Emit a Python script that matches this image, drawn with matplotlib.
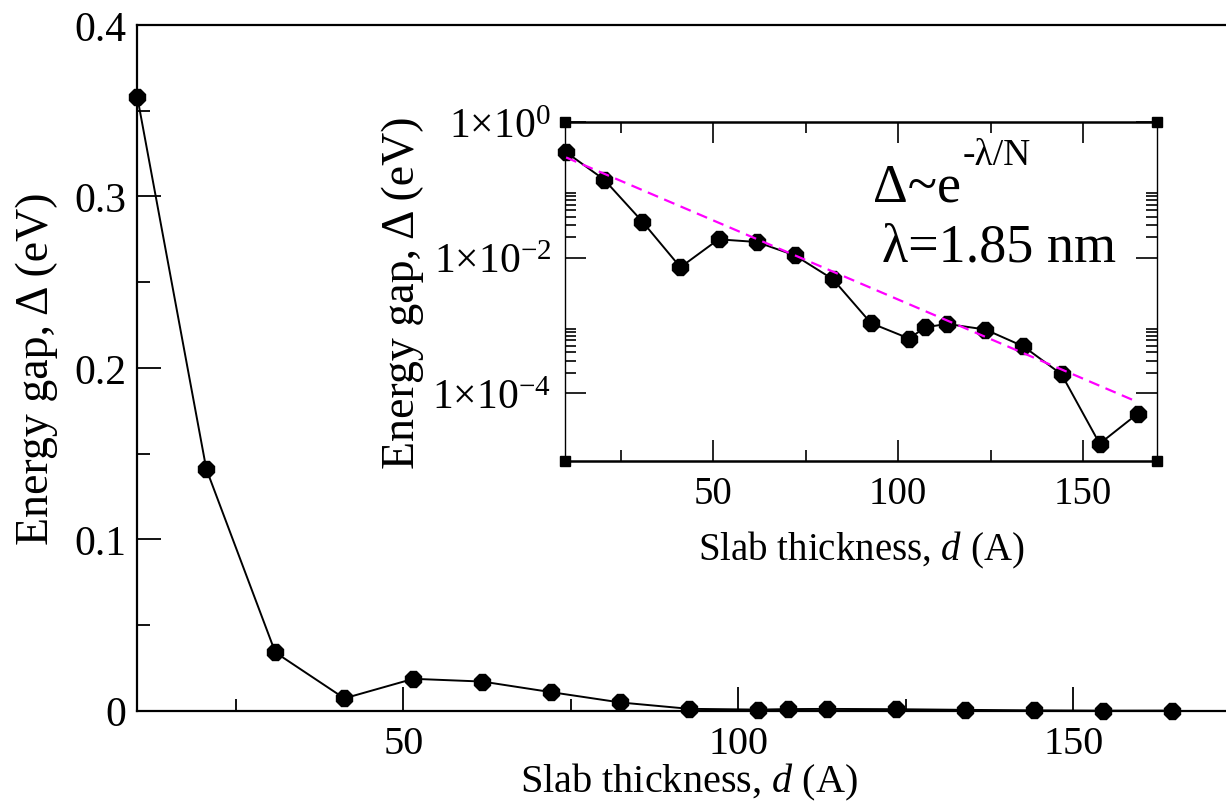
import numpy as np
import matplotlib

matplotlib.use("Agg")
import matplotlib.pyplot as plt
from matplotlib.ticker import FixedLocator, NullFormatter, FuncFormatter

plt.rcParams["font.family"] = ["Liberation Serif", "DejaVu Serif"]
plt.rcParams["mathtext.fontset"] = "custom"
plt.rcParams["mathtext.rm"] = "Liberation Serif"
plt.rcParams["mathtext.it"] = "Liberation Serif:italic"

# ---- data ----
d = [10.3, 20.6, 30.9, 41.2, 51.5, 61.8, 72.1, 82.4, 92.7, 103.0,
     107.4, 113.3, 123.6, 133.9, 144.2, 154.5, 164.8]          # slab thickness, A
gap = [0.358, 0.141, 0.034, 0.0072, 0.0186, 0.0170, 0.0108, 0.0048, 0.00108,
       0.00064, 0.00094, 0.00105, 0.00087, 0.00049, 0.00019, 1.8e-5, 5.0e-5]  # eV
fit_d = [10.3, 164.8]        # exponential fit, end points (straight on log axis)
fit_gap = [0.30, 7.4e-5]

main_xticks = [50, 100, 150]
main_yticks = [0, 0.1, 0.2, 0.3, 0.4]
inset_yticks = [1e0, 1e-2, 1e-4]
inset_minor = [k * 10.0**e for e in (-4, -2) for k in range(2, 10)]

W, H = 1226, 804
fig = plt.figure(figsize=(W / 100, H / 100), dpi=100)


def px(l, t, r, b):
    return [l / W, 1 - b / H, (r - l) / W, (b - t) / H]


# ---- main panel (right edge runs off the page, as in the original) ----
ax = fig.add_axes(px(137.3, 26, 137.3 + 159.7 * 6.91, 711.7))
ax.plot(d, gap, "k-", lw=1.4, marker="8", ms=12.5, mfc="k", mec="k", clip_on=False, zorder=3)
ax.set_xlim(10.3, 170)
ax.set_ylim(0, 0.4)
ax.set_xticks(main_xticks)
ax.set_xticks([25, 75, 125, 175], minor=True)
ax.set_yticks(main_yticks)
ax.set_yticklabels(["0", "0.1", "0.2", "0.3", "0.4"])
ax.set_yticks([0.05, 0.15, 0.25, 0.35], minor=True)
ax.tick_params(which="both", direction="in", width=1.3, top=False, right=False)
ax.tick_params(axis="x", which="major", labelsize=29, pad=10)
ax.tick_params(axis="y", which="major", labelsize=30, pad=8)
ax.tick_params(which="major", length=17)
ax.tick_params(which="minor", length=9)
for s in ("left", "bottom", "top"):
    ax.spines[s].set_linewidth(1.6)
ax.spines["right"].set_visible(False)
ax.set_xlabel("Slab thickness, $d$ (A)", fontsize=29)
ax.xaxis.set_label_coords(0.5, -0.073)
ax.set_ylabel("Energy gap, \u0394 (eV)", fontsize=33)
ax.yaxis.set_label_coords(-0.072, 0.5)

# ---- inset ----
ins = fig.add_axes(px(565, 123, 1157, 462))
ins.set_yscale("log")
ins.plot(d, gap, "k-", lw=1.4, marker="8", ms=12.5, mfc="k", mec="k", clip_on=False, zorder=3)
ins.plot(fit_d, fit_gap, color="#ff00ff", lw=1.6, dashes=(5, 3), zorder=4)
ins.set_xlim(10, 170)
ins.set_ylim(1e-5, 1)
ins.set_xticks(main_xticks)
ins.set_xticks([25, 75, 125], minor=True)
ins.yaxis.set_major_locator(FixedLocator(inset_yticks))
ins.yaxis.set_minor_locator(FixedLocator(inset_minor))
ins.yaxis.set_minor_formatter(NullFormatter())
ins.yaxis.set_major_formatter(
    FuncFormatter(lambda v, p: "1\u00d710$^{\\mathregular{%d}}$" % round(np.log10(v)))
)
ins.tick_params(which="both", direction="in", width=1.2, top=True, right=True)
ins.tick_params(axis="x", which="major", labelsize=28, pad=10)
ins.tick_params(axis="y", which="major", labelsize=30, pad=10)
ins.tick_params(which="major", length=15)
ins.tick_params(which="minor", length=8)
ins.spines["top"].set_linewidth(1.8)
ins.spines["bottom"].set_linewidth(1.8)
ins.spines["left"].set_linewidth(1.0)
ins.spines["right"].set_linewidth(1.0)
ins.set_xlabel("Slab thickness, $d$ (A)", fontsize=28)
ins.xaxis.set_label_coords(0.5, -0.2)
ins.set_ylabel("Energy gap, \u0394 (eV)", fontsize=33)
ins.yaxis.set_label_coords(-0.238, 0.5)
# little corner squares
ins.plot([0, 1, 0, 1], [0, 0, 1, 1], "s", color="k", ms=7, transform=ins.transAxes,
         clip_on=False, zorder=5)
t1 = ins.text(0.52, 0.767, "\u0394~e", transform=ins.transAxes,
              fontsize=39, ha="left", va="baseline")
ins.annotate("-\u03bb/N", xy=(1.0, 0.82), xycoords=t1, xytext=(1, 0),
             textcoords="offset points", fontsize=27, ha="left", va="bottom")
ins.text(0.5355, 0.59, "\u03bb=1.85 nm", transform=ins.transAxes,
         fontsize=39, ha="left", va="baseline")

fig.savefig("out.png", dpi=100)
